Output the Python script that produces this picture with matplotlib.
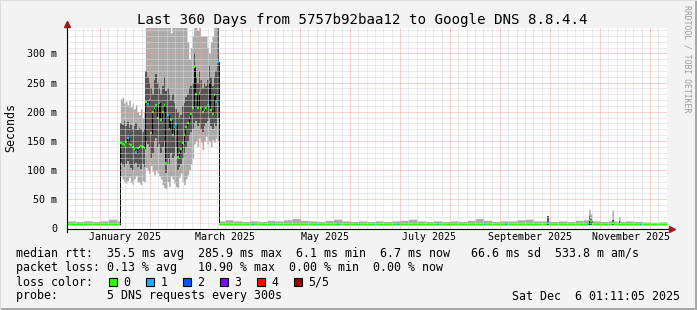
import numpy as np
import matplotlib
matplotlib.use('Agg')
import matplotlib.pyplot as plt
from matplotlib.patches import Rectangle

# ---------------- data (milliseconds) ----------------
n_days = 360
bin_days = 5

# quiet periods, one value per 5 days
base_median = [8, 8, 8, 8, 8, 8, 8, 8, 8, 8, 8, 8, 8, 8, 8, 8, 8, 8,
               8, 8, 8, 8, 8, 8, 8, 8, 8, 8, 8, 8, 7.5, 8, 7.5, 8, 7.5, 8,
               8, 7.5, 8, 8, 8, 8, 8, 8, 8, 8, 8, 8, 8, 8, 8, 8, 8, 8,
               8, 8, 8, 8, 8, 8, 8, 8, 8, 8, 8, 8, 8, 8, 8, 7, 7, 7]
base_max = [13, 12, 13, 12, 13, 16, 13, 13, 13, 13, 13, 13, 13, 13, 13, 13, 13, 13,
            13, 15, 13, 12, 13, 12, 14, 13, 15, 17, 14, 13, 12, 14, 16, 13, 12, 13,
            12, 13, 12, 13, 14, 16, 13, 12, 13, 12, 13, 12, 14, 17, 14, 12, 13, 13,
            15, 16, 13, 13, 12, 13, 12, 14, 15, 13, 12, 13, 12, 13, 12, 11, 10, 11]
base_min = [6, 6, 6, 6, 6, 6, 6, 6, 6, 6, 6, 6, 6, 6, 6, 6, 6, 6,
            6, 6, 6, 6, 6, 6, 6, 6, 6, 6, 6, 6, 6, 6, 6, 6, 6, 6,
            6, 6, 6, 6, 6, 6, 6, 6, 6, 6, 6, 6, 6, 6, 6, 6, 6, 6,
            6, 6, 6, 6, 6, 6, 6, 6, 6, 6, 6, 6, 6, 6, 6, 6, 6, 6]

# high latency period, one value per day from day 32 to day 90
hi_start = 32
hi_median = [146, 144, 143, 148, 155, 145, 143, 140, 137, 131, 138, 140, 142, 140, 138,
             217, 214, 220, 163, 200, 206, 211, 190, 215, 186, 200, 211, 112, 194, 170,
             186, 160, 174, 179, 123, 129, 137, 146, 160, 174, 180, 190, 197, 206, 277,
             230, 206, 232, 206, 200, 203, 206, 211, 251, 203, 197, 229, 217, 286]
hi_max = [222, 225, 215, 218, 212, 220, 208, 215, 205, 212, 200, 195, 205, 190, 200,
          400, 400, 400, 400, 400, 400, 400, 400, 400, 400, 400, 400, 400, 400, 400,
          335, 400, 400, 400, 400, 400, 400, 400, 400, 400, 320, 290, 310, 330, 400,
          400, 340, 400, 330, 330, 330, 330, 310, 300, 320, 330, 400, 350, 400]
hi_q3 = [180, 178, 185, 175, 182, 172, 178, 170, 175, 180, 168, 172, 170, 165, 170,
         270, 260, 250, 240, 230, 255, 265, 250, 240, 230, 245, 260, 235, 240, 230,
         220, 230, 215, 205, 200, 190, 195, 210, 215, 225, 230, 240, 245, 250, 300,
         260, 250, 270, 255, 240, 250, 245, 255, 280, 260, 245, 260, 270, 400]
hi_q1 = [112, 108, 105, 110, 115, 108, 103, 100, 110, 112, 105, 108, 102, 110, 105,
         150, 145, 140, 120, 130, 150, 155, 140, 145, 130, 140, 150, 95, 120, 110,
         130, 120, 125, 140, 100, 105, 110, 120, 130, 140, 150, 160, 165, 170, 180,
         185, 175, 180, 170, 165, 175, 180, 185, 190, 175, 170, 180, 175, 190]
hi_min = [90, 85, 80, 78, 82, 88, 80, 76, 85, 90, 80, 78, 75, 82, 80,
          105, 100, 95, 108, 98, 92, 100, 95, 90, 85, 75, 70, 68, 80, 72,
          90, 85, 78, 72, 70, 88, 95, 80, 75, 85, 92, 100, 110, 120, 145,
          150, 140, 155, 148, 135, 150, 158, 145, 150, 140, 152, 148, 155, 150]

# single days with extra spread later in the year
spike_days = [288, 313, 314, 327, 331]
spike_max = [21, 33, 25, 32, 20]
spike_q3 = [21, 22, 16, 15, 13]
spike_median = [9, 14, 12, 9, 8]

# days where 1 of 5 pings was lost
loss1_days = [36, 41, 48, 55, 60, 64, 65, 84, 89, 90, 111, 124, 150, 162, 163,
              174, 175, 184, 198, 222, 229, 250, 263, 288, 312, 344]

loss_labels = ['0', '1', '2', '3', '4', '5/5']
loss_colors = ['#26ff00', '#00b8ff', '#0059ff', '#7e00ff', '#ff0000', '#a10000']

ytick_vals = [0, 50, 100, 150, 200, 250, 300]
ytick_labels = ['0', '50 m', '100 m', '150 m', '200 m', '250 m', '300 m']
xtick_days = [35, 95, 155, 217, 278, 338.5]
xtick_labels = ['January 2025', 'March 2025', 'May 2025', 'July 2025',
                'September 2025', 'November 2025']

title = 'Last 360 Days from 5757b92baa12 to Google DNS 8.8.4.4'
rtt_line = 'median rtt:  35.5 ms avg  285.9 ms max  6.1 ms min  6.7 ms now   66.6 ms sd  533.8 m am/s'
loss_line = 'packet loss: 0.13 % avg   10.90 % max  0.00 % min  0.00 % now'
probe_line = 'probe:       5 DNS requests every 300s'
date_line = 'Sat Dec  6 01:11:05 2025'

# ---------------- build daily series ----------------
median = np.repeat(np.array(base_median, float), bin_days)
smax = np.repeat(np.array(base_max, float), bin_days)
smin = np.repeat(np.array(base_min, float), bin_days)
q1 = np.full(n_days, np.nan)
q3 = np.full(n_days, np.nan)

sl = slice(hi_start, hi_start + len(hi_median))
median[sl] = hi_median
smax[sl] = hi_max
smin[sl] = hi_min
q1[sl] = hi_q1
q3[sl] = hi_q3

for d, mx, u, m in zip(spike_days, spike_max, spike_q3, spike_median):
    smax[d] = mx
    q3[d] = u
    q1[d] = smin[d]
    median[d] = m

loss = np.zeros(n_days, int)
loss[loss1_days] = 1

days = np.arange(n_days)
# every day becomes a flat step from d to d+1
xs = np.column_stack([days, days + 1]).ravel()


def steps(v):
    return np.repeat(v, 2)


# ---------------- figure ----------------
W, H = 697, 310
plt.rcParams['font.family'] = 'DejaVu Sans Mono'
fig = plt.figure(figsize=(W / 100, H / 100), dpi=100, facecolor='#f3f3f3')


def fx(px):
    return px / W


def fy(py):
    return 1 - py / H


x0, x1, y0, y1 = 67, 667, 228.5, 28.3
ax = fig.add_axes([fx(x0), fy(y0), (x1 - x0) / W, (y0 - y1) / H])
ax.set_xlim(0, n_days)
ax.set_ylim(0, 343)
ax.set_facecolor('white')
for s in ax.spines.values():
    s.set_visible(False)

# smoke
ax.fill_between(xs, steps(smin), steps(smax), color='#acacac', lw=0, zorder=1)
ax.fill_between(xs, steps(q1), steps(q3), color='#555555', lw=0, zorder=2)

# median: black connectors, then colour by loss
ax.plot(xs, steps(median), color='black', lw=0.7, zorder=3)
ax.hlines(median, days, days + 1, colors=[loss_colors[k] for k in loss],
          lw=1.7, zorder=4, capstyle='butt')

# grid
for v in range(10, 343, 10):
    major = v % 50 == 0
    ax.axhline(v, color='#f0a0a0' if major else '#d6d6d6', lw=0.72,
               ls=(0, (1, 1)), zorder=5)
for d in np.arange(4.8, n_days, 5):
    major = abs((d - 19.8) % 30) < 0.01
    ax.axvline(d, color='#f0a0a0' if major else '#d6d6d6', lw=0.72,
               ls=(0, (1, 1)), zorder=5)

# axes with arrows
ax.plot([0, 362], [0, 0], color='black', lw=0.8, clip_on=False, zorder=6)
ax.plot([0, 0], [-6, 350], color='black', lw=0.8, clip_on=False, zorder=6)
ax.plot([363], [0], marker='>', ms=5, color='#9b1c1c', clip_on=False, zorder=7)
ax.plot([0], [350], marker='^', ms=5, color='#9b1c1c', clip_on=False, zorder=7)

ax.set_yticks(ytick_vals, labels=ytick_labels)
ax.set_xticks(xtick_days, labels=xtick_labels)
ax.tick_params(axis='y', length=0, pad=7, labelsize=7.2)
ax.tick_params(axis='x', length=0, pad=2.5, labelsize=7.2)

# texts
fig.text(fx(362), fy(24), title, ha='center', va='baseline', fontsize=10.2)
fig.text(fx(11), fy(127), 'Seconds', rotation=90, ha='center', va='center', fontsize=8.4)
fig.text(fx(687.5), fy(59), 'RRDTOOL / TOBI OETIKER', rotation=270,
         ha='center', va='center', fontsize=5.9, color='#9a9a9a')

fig.text(fx(16), fy(257.5), rtt_line, va='baseline', fontsize=8.4)
fig.text(fx(16), fy(271.5), loss_line, va='baseline', fontsize=8.4)
fig.text(fx(16), fy(285.5), 'loss color:', va='baseline', fontsize=8.4)
for i, (lab, col) in enumerate(zip(loss_labels, loss_colors)):
    bx = 108.5 + 37 * i
    fig.patches.append(Rectangle((fx(bx), fy(286)), 8 / W, 8 / H,
                                 transform=fig.transFigure, facecolor=col,
                                 edgecolor='black', lw=0.8))
    fig.text(fx(bx + 15), fy(285.5), lab, va='baseline', fontsize=8.4)
fig.text(fx(16), fy(299.5), probe_line, va='baseline', fontsize=8.4)
fig.text(fx(680), fy(299.5), date_line, ha='right', va='baseline', fontsize=8.4)

# 3d frame
fig.patches.append(Rectangle((fx(695), 0), 2 / W, 1, transform=fig.transFigure,
                             facecolor='#a8a8a8', lw=0))
fig.patches.append(Rectangle((0, 0), 1, 2 / H, transform=fig.transFigure,
                             facecolor='#a8a8a8', lw=0))
fig.patches.append(Rectangle((0, 0), 1 / W, 1, transform=fig.transFigure,
                             facecolor='#dcdcdc', lw=0))
fig.patches.append(Rectangle((0, fy(1)), 1, 1 / H, transform=fig.transFigure,
                             facecolor='#dcdcdc', lw=0))

fig.savefig('out.png', dpi=100, facecolor=fig.get_facecolor())
